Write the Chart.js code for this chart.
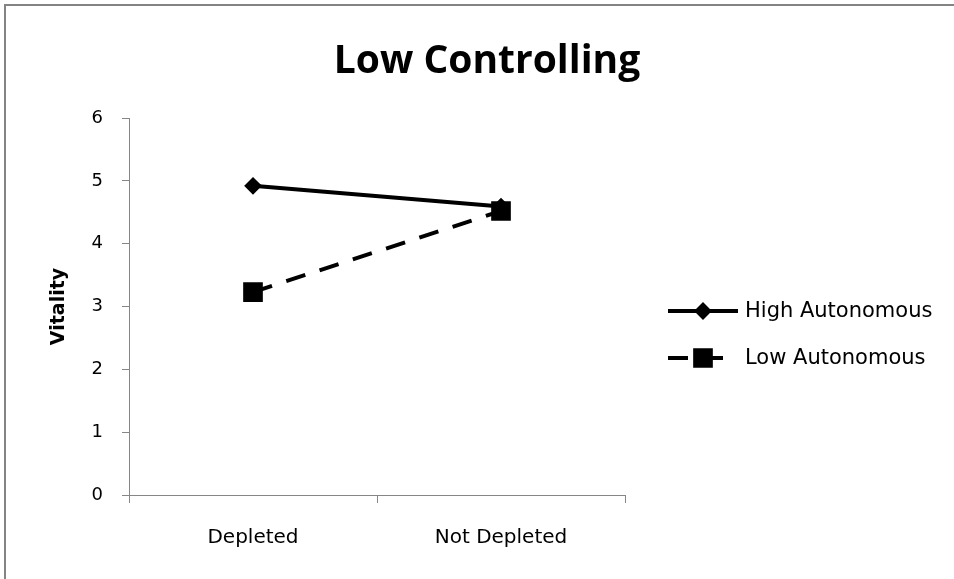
<!DOCTYPE html>
<html>
<head>
<meta charset="utf-8">
<script src="https://cdn.jsdelivr.net/npm/chart.js@4"></script>
<style>
  html, body { margin: 0; padding: 0; background: #fff; }
  #wrap { position: relative; width: 954px; height: 579px; overflow: hidden; }
  #c { position: absolute; left: 0; top: 0; }
  #frame { position: absolute; left: 4px; top: 4px; width: 980px; height: 600px;
           border: 2px solid #848484; pointer-events: none; }
</style>
</head>
<body>
<div id="wrap">
  <canvas id="c" width="954" height="579"></canvas>
  <div id="frame"></div>
</div>
<script>
const chartTitle = 'Low Controlling';
const yAxisTitle = 'Vitality';
const categories = ['Depleted', 'Not Depleted'];
const seriesNames = ['High Autonomous', 'Low Autonomous'];
const highAutonomous = [4.92, 4.59];
const lowAutonomous = [3.23, 4.52];
const yTickValues = [0, 1, 2, 3, 4, 5, 6];

const AXIS_GREY = '#868686';
const FONT = '"DejaVu Sans", "Open Sans", sans-serif';

// Title and line-plus-marker legend, drawn on top of the chart
const decorations = {
  id: 'decorations',
  afterDraw(chart) {
    const ctx = chart.ctx;
    ctx.save();
    ctx.fillStyle = '#000';
    ctx.font = 'bold 39px "Open Sans", sans-serif';
    ctx.textAlign = 'center';
    ctx.textBaseline = 'middle';
    ctx.fillText(chartTitle, 487, 62);

    chart.data.datasets.forEach((ds, i) => {
      const y = 311 + i * 47;
      ctx.save();
      ctx.strokeStyle = ds.borderColor;
      ctx.lineWidth = ds.borderWidth;
      ctx.setLineDash(ds.borderDash || []);
      ctx.beginPath();
      ctx.moveTo(668, y);
      ctx.lineTo(738, y);
      ctx.stroke();
      ctx.restore();

      ctx.save();
      ctx.fillStyle = ds.pointBackgroundColor;
      ctx.strokeStyle = ds.pointBorderColor;
      ctx.lineWidth = ds.pointBorderWidth;
      Chart.helpers.drawPoint(ctx, {
        pointStyle: ds.pointStyle,
        radius: ds.pointRadius,
        rotation: 0,
        borderWidth: ds.pointBorderWidth
      }, 703, y);
      ctx.restore();

      ctx.fillStyle = '#000';
      ctx.font = '21px ' + FONT;
      ctx.textAlign = 'left';
      ctx.textBaseline = 'middle';
      ctx.fillText(ds.label, 745, y + 1);
    });
    ctx.restore();
  }
};

new Chart(document.getElementById('c'), {
  type: 'line',
  data: {
    labels: categories,
    datasets: [
      {
        label: seriesNames[0],
        data: highAutonomous,
        borderColor: '#000',
        borderWidth: 4,
        pointStyle: 'rectRot',
        pointRadius: 7.5,
        pointBackgroundColor: '#000',
        pointBorderColor: '#000',
        pointBorderWidth: 2,
        tension: 0,
        order: 1
      },
      {
        label: seriesNames[1],
        data: lowAutonomous,
        borderColor: '#000',
        borderWidth: 4,
        borderDash: [20, 15],
        pointStyle: 'rect',
        pointRadius: 12.5,
        pointBackgroundColor: '#000',
        pointBorderColor: '#000',
        pointBorderWidth: 2,
        tension: 0,
        order: 0
      }
    ]
  },
  options: {
    responsive: false,
    animation: false,
    layout: { padding: { top: 118, right: 329, bottom: 0, left: 0 } },
    plugins: {
      legend: { display: false },
      title: { display: false },
      tooltip: { enabled: false }
    },
    scales: {
      x: {
        type: 'category',
        offset: true,
        grid: { offset: true, drawOnChartArea: false, tickLength: 8, color: AXIS_GREY, lineWidth: 1 },
        border: { color: AXIS_GREY, width: 1 },
        ticks: { color: '#000', font: { family: FONT, size: 20 }, padding: 23, maxRotation: 0 },
        afterFit(scale) { scale.height = 84; }
      },
      y: {
        min: 0,
        max: 6,
        afterBuildTicks(scale) { scale.ticks = yTickValues.map(v => ({ value: v })); },
        grid: { drawOnChartArea: false, tickLength: 7, color: AXIS_GREY, lineWidth: 1 },
        border: { color: AXIS_GREY, width: 1 },
        ticks: { color: '#000', font: { family: FONT, size: 18 }, padding: 19 },
        title: {
          display: true,
          text: yAxisTitle,
          color: '#000',
          font: { family: FONT, size: 19, weight: 'bold' },
          padding: { top: 48, bottom: 0 }
        },
        afterFit(scale) { scale.width = 129; }
      }
    }
  },
  plugins: [decorations]
});
</script>
</body>
</html>
